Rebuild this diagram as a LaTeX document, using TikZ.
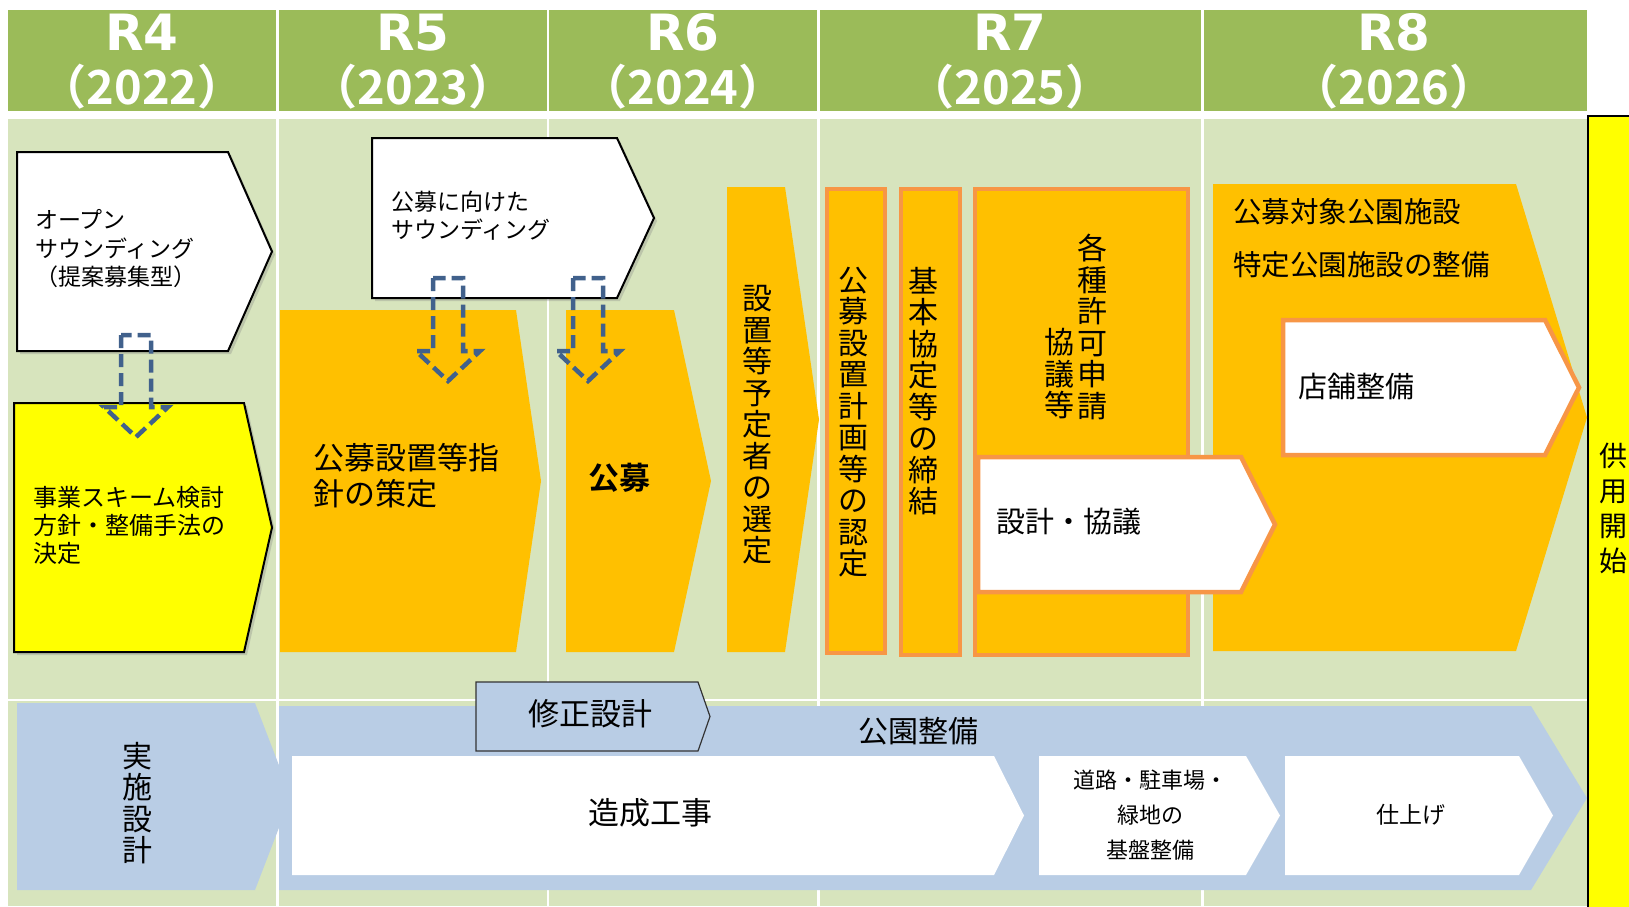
\documentclass[tikz,border=0pt]{standalone}
\usepackage{fontspec}
\setmainfont{Noto Sans CJK JP}[BoldFont={Noto Sans CJK JP Bold}]
\newfontfamily\latinbold{DejaVu Sans}
\usetikzlibrary{calc,shadows}

\definecolor{hdrgreen}{HTML}{9BBB59}
\definecolor{bggreen}{HTML}{D7E4BD}
\definecolor{orng}{HTML}{FFC000}
\definecolor{orngline}{HTML}{F79646}
\definecolor{pale}{HTML}{B9CDE5}
\definecolor{arrblue}{HTML}{41618C}
\definecolor{ylw}{HTML}{FFFF00}

\newcommand{\fs}[2]{\fontsize{#1}{#2}\selectfont}
% pentagon: style, left x, top y, shoulder x, tip x, bottom y
\newcommand{\penta}[6]{\path[#1] (#2,#3) -- (#4,#3) -- (#5,{(#3+#6)/2}) -- (#4,#6) -- (#2,#6) -- cycle;}
% hollow dashed down arrow from (start) to (tip)
\newcommand{\hollowdown}[2]{\draw[dasharr] ($(#1)+(-15,0)$) -- ($(#2)+(-15,-30)$) -- ($(#2)+(-32,-30)$) -- (#2)
  -- ($(#2)+(32,-30)$) -- ($(#2)+(15,-30)$) -- ($(#1)+(15,0)$) -- cycle;}

\begin{document}
\begin{tikzpicture}[x=1pt,y=-1pt,
  sep/.style={white,line width=2.5pt},
  boxw/.style={fill=white,draw=black,line width=2pt,
    drop shadow={shadow xshift=3pt,shadow yshift=-3pt,opacity=0.3}},
  boxy/.style={boxw,fill=ylw},
  orngfill/.style={fill=orng},
  orngbox/.style={fill=orng,draw=orngline,line width=4.5pt},
  orngw/.style={fill=white,draw=orngline,line width=4.5pt},
  palefill/.style={fill=pale},
  fixbox/.style={fill=pale,draw=black!80,line width=1.2pt},
  dasharr/.style={draw=arrblue,line width=4.5pt,dash pattern=on 13pt off 6pt},
  yr/.style={text=white,inner sep=0pt,anchor=base,font=\latinbold\bfseries\fs{50}{50}},
  yrsub/.style={text=white,inner sep=0pt,anchor=base,font=\bfseries\fs{47}{47}},
  lbl/.style={inner sep=0pt,text=black,align=left},
  vlbl/.style={inner sep=0pt,text=black,align=center,font=\fs{30}{31.5}}]
\useasboundingbox (0,0) rectangle (1629,906);
\fill[white] (0,0) rectangle (1629,906);

% header and background
\fill[hdrgreen] (8,10) rectangle (1587,111);
\fill[bggreen] (8,119) rectangle (1588,906);
\draw[sep] (8,700) -- (1588,700);
\foreach \x in {277.5,548,818.5,1202.5}
  \draw[sep] (\x,10) -- (\x,906);

\node[yr] (r4) at (142,50) {R4};
\node[yrsub] (y4) at (142,104) {（2022）};
\node[yr] (r5) at (413,50) {R5};
\node[yrsub] (y5) at (413,104) {（2023）};
\node[yr] (r6) at (683,50) {R6};
\node[yrsub] (y6) at (683,104) {（2024）};
\node[yr] (r7) at (1010,50) {R7};
\node[yrsub] (y7) at (1010,104) {（2025）};
\node[yr] (r8) at (1394,50) {R8};
\node[yrsub] (y8) at (1394,104) {（2026）};

% start of use
\draw[fill=ylw,line width=2.5pt] (1588,116) rectangle (1660,940);
\node[vlbl,font=\fs{28}{35}] (kyoyo) at (1613,508) {供\\用\\開\\始};

% upper row
\penta{boxw}{17}{152}{228}{272}{351}
\penta{boxy}{14}{403}{244}{272}{652}
\penta{orngfill}{280}{310}{516}{541}{652}
\penta{boxw}{372}{138}{617}{654}{298}
\penta{orngfill}{566}{310}{674}{711}{652}
\penta{orngfill}{727}{187}{785}{819}{652}
\draw[orngbox] (827,189) rectangle (885,653);
\draw[orngbox] (901,189) rectangle (960,655);
\draw[orngbox] (975,189) rectangle (1188,655);
\penta{orngfill}{1213}{184}{1516}{1587}{651}
\penta{orngw}{978}{457}{1241}{1275}{592}
\penta{orngw}{1283}{320}{1545}{1579}{455}

% lower row
\penta{palefill}{17}{703}{255}{291}{890}
\penta{palefill}{279}{706}{1531}{1587}{890}
\penta{fixbox}{476}{682}{698}{710}{751}
\penta{fill=white}{292}{756}{994}{1024}{875}
\penta{fill=white}{1039}{756}{1246}{1280}{875}
\penta{fill=white}{1285}{756}{1519}{1553}{875}

% dashed block arrows
\coordinate (a1s) at (136,335);
\coordinate (a1e) at (136,437);
\coordinate (a2s) at (448,278);
\coordinate (a2e) at (448,381);
\coordinate (a3s) at (588,278);
\coordinate (a3e) at (588,381);
\hollowdown{a1s}{a1e}
\hollowdown{a2s}{a2e}
\hollowdown{a3s}{a3e}

% labels, upper row
\node[lbl,anchor=west,font=\fs{23}{28.5}] (open) at (35,249) {オープン\\サウンディング\\（提案募集型）};
\node[lbl,anchor=west,font=\fs{24}{28}] (scheme) at (33,525) {事業スキーム検討\\方針・整備手法の\\決定};
\node[lbl,anchor=west,font=\fs{23}{28}] (sound) at (391,216) {公募に向けた\\サウンディング};
\node[lbl,anchor=west,font=\fs{31}{36}] (shishin) at (313,476) {公募設置等指\\針の策定};
\node[lbl,font=\bfseries\fs{31}{31}] (kobo) at (619,478) {公募};
\node[vlbl] (sentei) at (757,425) {設\\置\\等\\予\\定\\者\\の\\選\\定};
\node[vlbl] (nintei) at (853,422) {公\\募\\設\\置\\計\\画\\等\\の\\認\\定};
\node[vlbl] (kyotei) at (923,391) {基\\本\\協\\定\\等\\の\\締\\結};
\node[vlbl] (kyoka) at (1092,327) {各\\種\\許\\可\\申\\請};
\node[vlbl] (kyogi) at (1059,374) {協\\議\\等};
\node[lbl,anchor=west,font=\fs{29}{29}] (sekkei) at (996,522) {設計・協議};
\node[lbl,anchor=west,font=\fs{28.5}{53}] (shisetsu) at (1233,238) {公募対象公園施設\\特定公園施設の整備};
\node[lbl,anchor=west,font=\fs{29}{29}] (tenpo) at (1298,386) {店舗整備};

% labels, lower row
\node[vlbl] (jisshi) at (137,803) {実\\施\\設\\計};
\node[lbl,font=\fs{31}{31}] (shusei) at (590,714) {修正設計};
\node[lbl,font=\fs{30}{30}] (koen) at (918,731) {公園整備};
\node[lbl,font=\fs{31}{31}] (zosei) at (650,813) {造成工事};
\node[lbl,align=center,font=\fs{22}{35}] (doro) at (1150,815) {道路・駐車場・\\緑地の\\基盤整備};
\node[lbl,font=\fs{23}{23}] (shiage) at (1411,815) {仕上げ};
\end{tikzpicture}
\end{document}
